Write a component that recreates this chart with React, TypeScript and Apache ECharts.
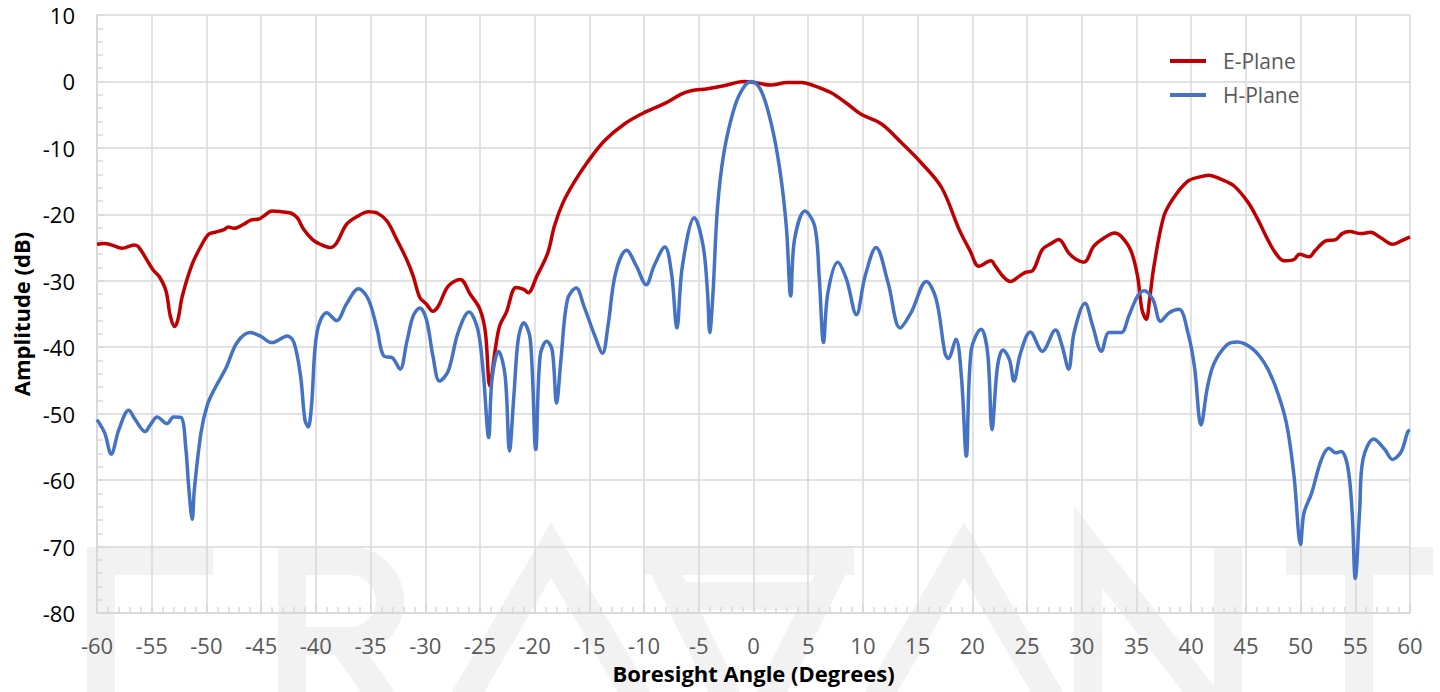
import React, { useEffect, useRef } from "react";
import * as echarts from "echarts";

const xTicks = { min: -60, max: 60, step: 5 };
const yTicks = { min: -80, max: 10, step: 10 };
const seriesNames = ["E-Plane", "H-Plane"];

const ePlane: number[][] = [
  [-60, -24.5], [-59.3, -24.4], [-58.7, -24.6], [-57.7, -25.1], [-56.6, -24.6], [-56.2, -24.9],
  [-54.9, -28.3], [-54.3, -29.4], [-53.7, -31.5], [-53.3, -35.3], [-52.9, -36.9], [-52.6, -35.8],
  [-52.2, -32.3], [-51.3, -27.5], [-50.5, -24.8], [-49.8, -23.0], [-49.2, -22.7], [-48.4, -22.3],
  [-48.0, -21.9], [-47.5, -22.1], [-46.6, -21.5], [-46.0, -20.9], [-45.2, -20.7], [-44.8, -20.3],
  [-44.0, -19.5], [-43.2, -19.6], [-42.3, -19.8], [-41.7, -20.5], [-41.1, -22.3], [-40.3, -23.8],
  [-39.6, -24.5], [-38.7, -25.0], [-38.1, -24.3], [-37.2, -21.5], [-36.2, -20.3], [-35.2, -19.6],
  [-34.4, -19.8], [-33.5, -21.0], [-32.6, -23.8], [-31.7, -26.8], [-31.1, -29.3], [-30.5, -32.5],
  [-29.9, -33.5], [-29.3, -34.6], [-28.8, -33.8], [-27.9, -30.8], [-26.8, -29.8], [-25.9, -32.0],
  [-25.0, -34.3], [-24.5, -37.8], [-24.1, -45.8], [-23.6, -40.3], [-23.2, -36.8], [-22.6, -34.8],
  [-21.7, -31.0], [-21.0, -31.3], [-20.6, -31.8], [-19.8, -29.3], [-18.8, -25.8], [-18.2, -21.8],
  [-17.4, -18.2], [-16.4, -15.2], [-15.2, -12.2], [-13.6, -8.9], [-11.8, -6.4], [-10.0, -4.7],
  [-8.1, -3.3], [-6.6, -1.9], [-5.7, -1.4], [-4.2, -1.1], [-2.7, -0.65], [-1.4, -0.1], [-0.8, 0],
  [0.1, -0.15], [1.6, -0.55], [3.1, -0.15], [4.4, -0.15], [5.3, -0.5], [7.1, -1.7], [8.6, -3.4],
  [9.8, -4.9], [11.7, -6.4], [13.5, -9.2], [15.3, -12.2], [17.2, -16.0], [18.8, -22.3], [19.8, -25.5],
  [20.6, -27.8], [21.7, -27.0], [22.1, -27.8], [22.9, -29.5], [23.5, -30.1], [24.3, -29.3],
  [24.9, -28.7], [25.5, -28.5], [26.4, -25.3], [27.2, -24.4], [27.9, -23.8], [28.8, -25.8],
  [29.5, -26.8], [30.2, -27.2], [31.1, -24.8], [32.0, -23.6], [33.0, -22.8], [33.6, -23.3],
  [34.5, -25.5], [35.1, -29.3], [35.5, -34.3], [35.9, -35.8], [36.2, -32.8], [36.6, -27.8],
  [37.5, -20.3], [38.4, -17.5], [39.7, -15.0], [40.7, -14.4], [41.6, -14.1], [42.7, -14.7],
  [43.9, -15.7], [45.2, -18.2], [46.1, -20.8], [47.0, -23.8], [47.7, -25.8], [48.5, -27.0],
  [49.4, -26.8], [49.9, -26.0], [50.8, -26.4], [51.3, -25.5], [52.3, -24.0], [53.2, -23.8],
  [53.8, -22.9], [54.5, -22.6], [55.5, -22.9], [56.4, -22.7], [57.3, -23.5], [58.4, -24.5],
  [59.2, -24.0], [60, -23.4],
];

const hPlane: number[][] = [
  [-60, -50.9], [-59.3, -52.9], [-58.7, -56.1], [-58.0, -52.4], [-57.1, -49.5], [-56.5, -50.9],
  [-55.6, -52.7], [-55.1, -51.6], [-54.5, -50.5], [-53.6, -51.5], [-53.0, -50.5], [-52.3, -50.6],
  [-51.9, -54.9], [-51.6, -61.4], [-51.3, -65.9], [-51.1, -61.4], [-50.5, -52.9], [-49.9, -48.6],
  [-49.2, -46.1], [-48.2, -43.1], [-47.2, -39.3], [-46.0, -37.8], [-45.1, -38.3], [-44.0, -39.3],
  [-42.6, -38.3], [-42.0, -39.3], [-41.4, -44.3], [-41.0, -50.9], [-40.7, -52.0], [-40.4, -48.9],
  [-39.9, -37.8], [-39.0, -34.8], [-38.1, -36.0], [-37.2, -33.5], [-36.1, -31.2], [-35.2, -32.8],
  [-34.4, -37.3], [-33.8, -41.3], [-33.0, -41.6], [-32.3, -43.3], [-31.7, -39.3], [-31.1, -35.3],
  [-30.5, -34.1], [-29.9, -35.8], [-29.3, -41.3], [-28.7, -45.1], [-27.9, -43.6], [-27.0, -37.8],
  [-26.0, -34.7], [-25.2, -37.3], [-24.7, -43.8], [-24.2, -53.6], [-23.9, -44.8], [-23.3, -40.6],
  [-22.7, -44.3], [-22.3, -55.6], [-21.9, -47.3], [-21.5, -38.8], [-21.0, -36.3], [-20.4, -38.8],
  [-19.9, -55.4], [-19.5, -41.3], [-18.9, -39.1], [-18.4, -40.4], [-18.0, -48.4], [-17.6, -41.9],
  [-17.0, -32.8], [-16.2, -31.1], [-15.5, -33.8], [-14.5, -38.3], [-13.8, -40.9], [-13.3, -36.8],
  [-12.6, -28.8], [-11.6, -25.4], [-10.7, -27.8], [-9.8, -30.6], [-9.1, -27.8], [-8.1, -24.9],
  [-7.5, -28.8], [-7.0, -37.1], [-6.5, -27.8], [-5.4, -20.5], [-4.6, -24.8], [-4.2, -31.8],
  [-4.0, -37.8], [-3.7, -31.8], [-3.3, -19.2], [-2.7, -10.7], [-1.7, -3.7], [-0.8, -0.65],
  [-0.15, 0], [0.7, -1.4], [1.6, -6.2], [2.4, -13.2], [3.0, -21.8], [3.4, -32.3], [3.75, -23.8],
  [4.7, -19.5], [5.6, -21.8], [6.0, -29.3], [6.4, -39.3], [6.8, -31.8], [7.7, -27.2], [8.5, -29.8],
  [9.4, -35.1], [10.2, -29.3], [11.2, -25.0], [12.3, -30.3], [13.4, -37.1], [14.4, -34.8],
  [15.8, -30.1], [16.7, -32.8], [17.5, -40.9], [17.8, -41.7], [18.5, -38.8], [19.0, -44.4],
  [19.45, -56.4], [19.9, -40.4], [20.8, -37.3], [21.4, -40.9], [21.8, -52.4], [22.3, -42.9],
  [22.8, -40.4], [23.4, -41.9], [23.8, -45.1], [24.4, -40.9], [25.3, -37.7], [26.4, -40.6],
  [27.6, -37.4], [28.2, -39.8], [28.8, -43.3], [29.3, -37.8], [30.3, -33.4], [31.0, -36.8],
  [31.8, -40.6], [32.5, -37.8], [33.6, -37.8], [34.3, -35.3], [35.1, -32.3], [35.7, -31.5],
  [36.5, -32.8], [37.2, -36.1], [38.0, -34.8], [38.9, -34.3], [39.7, -37.8], [40.3, -42.9],
  [40.9, -51.7], [41.5, -45.9], [42.1, -42.4], [43.3, -39.6], [44.2, -39.2], [45.5, -40.1],
  [46.7, -42.4], [47.7, -45.9], [48.7, -51.4], [49.4, -59.4], [50.0, -69.7], [50.3, -65.0],
  [51.0, -62.0], [51.9, -56.9], [52.6, -55.2], [53.2, -55.9], [53.7, -55.7], [54.3, -57.9],
  [54.7, -64.5], [55.0, -74.8], [55.4, -64.5], [55.7, -56.9], [56.7, -53.8], [57.7, -55.4],
  [58.4, -56.9], [59.2, -55.7], [59.8, -52.7], [60, -52.5],
];

const WATERMARK_D =
  "M101 547 V740 M87 561 H213 " +
  "M292 740 V561 H350 A40 40 0 0 1 350 641 H292 M342 641 L412 740 " +
  "M440 740 L551 550 L662 740 " +
  "M643 561 L854 561 M657 555 L748 740 L840 555 M677 596 H827 " +
  "M853 740 L964 550 L1075 740 " +
  "M1088 740 V547 L1228 727 V547 " +
  "M1286 561 H1433 M1359 561 V740";

let registered = false;

export default function App() {
  const ref = useRef<HTMLDivElement>(null);
  useEffect(() => {
    if (!ref.current) return;
    if (!registered) {
      echarts.graphic.registerShape("wm", echarts.graphic.extendPath(WATERMARK_D, {}) as any);
      registered = true;
    }
    const chart = echarts.init(ref.current, null, { renderer: "svg" });
    const font = "'Open Sans', 'Liberation Sans', sans-serif";
    const gridColor = "#d9d9d9";
    chart.setOption({
      animation: false,
      backgroundColor: "#ffffff",
      textStyle: { fontFamily: font },
      graphic: [
        {
          type: "wm",
          x: 0,
          y: 0,
          z: -10,
          silent: true,
          style: { fill: "none", stroke: "#f2f2f2", lineWidth: 28, lineJoin: "miter" },
        },
      ],
      grid: { left: 97, right: 30, top: 15, bottom: 79, containLabel: false },
      legend: {
        orient: "vertical",
        left: 1165,
        top: 44,
        itemWidth: 36,
        itemHeight: 4,
        itemGap: 10,
        icon: "rect",
        data: seriesNames,
        textStyle: {
          color: "#595959",
          fontSize: 21,
          fontFamily: font,
          lineHeight: 24,
          padding: [0, 0, 0, 12],
        },
      },
      xAxis: {
        type: "value",
        min: xTicks.min,
        max: xTicks.max,
        interval: xTicks.step,
        name: "Boresight Angle (Degrees)",
        nameLocation: "middle",
        nameGap: 49,
        nameTextStyle: { color: "#000", fontWeight: "bold", fontSize: 22, fontFamily: font },
        axisLine: { show: true, onZero: false, lineStyle: { color: gridColor, width: 2 } },
        axisTick: { show: true, inside: true, length: 8, lineStyle: { color: gridColor, width: 1.5 } },
        minorTick: { show: true, splitNumber: 5, length: 6, lineStyle: { color: gridColor, width: 1.5 } },
        axisLabel: { color: "#595959", fontSize: 22, margin: 21, fontFamily: font },
        splitLine: { show: true, lineStyle: { color: gridColor, width: 1.5 } },
      },
      yAxis: {
        type: "value",
        min: yTicks.min,
        max: yTicks.max,
        interval: yTicks.step,
        name: "Amplitude (dB)",
        nameLocation: "middle",
        nameGap: 65,
        nameRotate: 90,
        nameTextStyle: { color: "#000", fontWeight: "bold", fontSize: 22, fontFamily: font },
        axisLine: { show: true, onZero: false, lineStyle: { color: gridColor, width: 2 } },
        axisTick: { show: true, inside: true, length: 8, lineStyle: { color: gridColor, width: 1.5 } },
        minorTick: { show: true, splitNumber: 5, length: 6, lineStyle: { color: gridColor, width: 1.5 } },
        axisLabel: { color: "#000", fontSize: 22, margin: 22, fontFamily: font },
        splitLine: { show: true, lineStyle: { color: gridColor, width: 1.5 } },
      },
      series: [
        {
          name: seriesNames[0],
          type: "line",
          data: ePlane,
          showSymbol: false,
          smooth: 0.35,
          lineStyle: { color: "#C00000", width: 3.5 },
          itemStyle: { color: "#C00000" },
        },
        {
          name: seriesNames[1],
          type: "line",
          data: hPlane,
          showSymbol: false,
          smooth: 0.35,
          lineStyle: { color: "#4472C4", width: 3.5 },
          itemStyle: { color: "#4472C4" },
        },
      ],
    });
    return () => chart.dispose();
  }, []);
  return (
    <div
      ref={ref}
      style={{ position: "absolute", left: 0, top: 0, width: 1440, height: 692 }}
    />
  );
}
